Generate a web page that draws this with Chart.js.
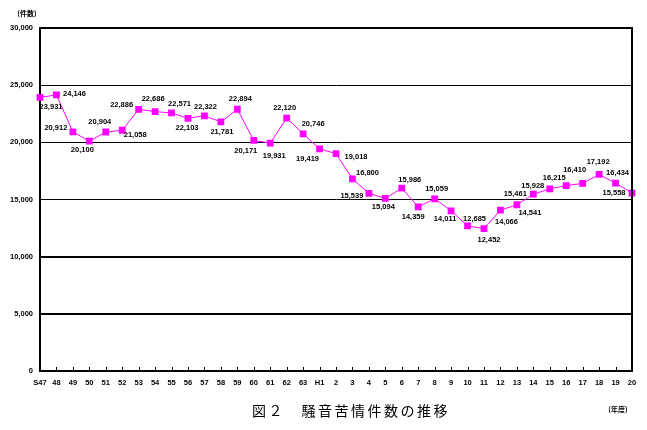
<!DOCTYPE html>
<html>
<head>
<meta charset="utf-8">
<script src="https://cdn.jsdelivr.net/npm/chart.js@4"></script>
<style>
    html, body { margin: 0; padding: 0; background: #fff; }
    #wrap { width: 647px; height: 430px; }
</style>
</head>
<body>
<div id="wrap"><canvas id="chart" width="647" height="430"></canvas></div>
<script>
// fiscal years, Showa 47 .. Heisei 20
const years = ['S47', '48', '49', '50', '51', '52', '53', '54', '55', '56', '57', '58', '59', '60', '61', '62', '63',
    'H1', '2', '3', '4', '5', '6', '7', '8', '9', '10', '11', '12', '13', '14', '15', '16', '17', '18', '19', '20'];

// noise complaints (cases)
const complaints = [23931, 24146, 20912, 20100, 20904, 21058, 22886, 22686, 22571, 22103, 22322, 21781, 22894, 20171, 19931, 22120, 20746,
    19419, 19018, 16800, 15539, 15094, 15986, 14359, 15059, 14011, 12685, 12452, 14066, 14541, 15461, 15928, 16215, 16410, 17192, 16434, 15558];

const yTicks = [0, 5000, 10000, 15000, 20000, 25000, 30000];

// where each value label sits relative to its marker (dx, dy)
const labelOffsets = [
    [11, 10], [18, -1], [-17, -4], [-7, 9], [-6, -10], [13, 5], [-17, -4], [-2, -13], [8, -9], [-1, 10],
    [1, -9], [1, 10], [3, -10], [-8, 11], [4, 13], [-2, -10], [10, -10], [-12, 10], [20, 3], [15, -6],
    [-17, 3], [-2, 9], [8, -8], [-5, 10], [2, -10], [-6, 8], [7, -7], [5, 11], [6, 12], [13, 8],
    [-18, 0], [-17, -3], [-12, -8], [-8, -13], [-1, -13], [2, -10], [-18, 0]
];

const smallFont = 'bold 7.5px "Liberation Sans", Arial, sans-serif';

const decorations = {
    id: 'decorations',
    afterDatasetsDraw(chart) {
        const ctx = chart.ctx;
        const area = chart.chartArea;
        const xScale = chart.scales.x;

        ctx.save();
        // frame: top and right edges
        ctx.strokeStyle = '#000';
        ctx.lineWidth = 2;
        ctx.beginPath();
        ctx.moveTo(area.left, area.top);
        ctx.lineTo(area.right, area.top);
        ctx.lineTo(area.right, area.bottom);
        ctx.stroke();

        // small ticks on the bottom axis
        ctx.lineWidth = 1;
        ctx.beginPath();
        years.forEach((y, i) => {
            const px = Math.round(xScale.getPixelForValue(i)) + 0.5;
            ctx.moveTo(px, area.bottom - 1);
            ctx.lineTo(px, area.bottom - 4);
        });
        ctx.stroke();

        // value labels
        ctx.fillStyle = '#000';
        ctx.font = smallFont;
        ctx.textAlign = 'center';
        ctx.textBaseline = 'middle';
        const meta = chart.getDatasetMeta(0);
        meta.data.forEach((pt, i) => {
            const [dx, dy] = labelOffsets[i];
            ctx.fillText(complaints[i].toLocaleString('en-US'), pt.x + dx, pt.y + dy);
        });

        // unit captions
        ctx.font = 'bold 7px "Noto Sans CJK JP", sans-serif';
        ctx.fillText('(件数)', 27, 13);
        ctx.fillText('(年度)', 618, 409);

        // chart title
        ctx.font = '14px "Noto Sans CJK JP", sans-serif';
        ctx.letterSpacing = '2.5px';
        ctx.textAlign = 'left';
        ctx.fillText('図２　騒音苦情件数の推移', 252, 411);
        ctx.restore();
    }
};

new Chart(document.getElementById('chart'), {
    type: 'line',
    data: {
        labels: years,
        datasets: [{
            data: complaints,
            borderColor: '#ff00ff',
            borderWidth: 1,
            backgroundColor: '#ff00ff',
            pointStyle: 'rect',
            pointRadius: 4.8,
            pointBorderWidth: 0,
            tension: 0
        }]
    },
    options: {
        responsive: false,
        animation: false,
        layout: { autoPadding: false, padding: { top: 28, right: 15, bottom: 39, left: 0 } },
        plugins: { legend: { display: false }, tooltip: { enabled: false } },
        scales: {
            x: {
                offset: false,
                afterFit: s => { s.height = 20; },
                grid: { display: false, drawTicks: false, tickLength: 0 },
                border: { display: true, color: '#000', width: 2 },
                ticks: { color: '#000', font: { size: 7.5, weight: 'bold', family: '"Liberation Sans", Arial' }, padding: 7, maxRotation: 0, autoSkip: false }
            },
            y: {
                min: 0,
                max: 30000,
                afterFit: s => { s.width = 40; },
                afterBuildTicks: s => { s.ticks = yTicks.map(v => ({ value: v })); },
                grid: {
                    color: '#000',
                    drawTicks: false,
                    lineWidth: c => (c.tick.value === 5000 || c.tick.value === 10000 || c.tick.value === 0 || c.tick.value === 30000) ? 2 : 1
                },
                border: { display: true, color: '#000', width: 2 },
                ticks: {
                    color: '#000',
                    padding: 7,
                    font: { size: 7.5, weight: 'bold', family: '"Liberation Sans", Arial' },
                    callback: v => v.toLocaleString('en-US')
                }
            }
        }
    },
    plugins: [decorations]
});
</script>
</body>
</html>
